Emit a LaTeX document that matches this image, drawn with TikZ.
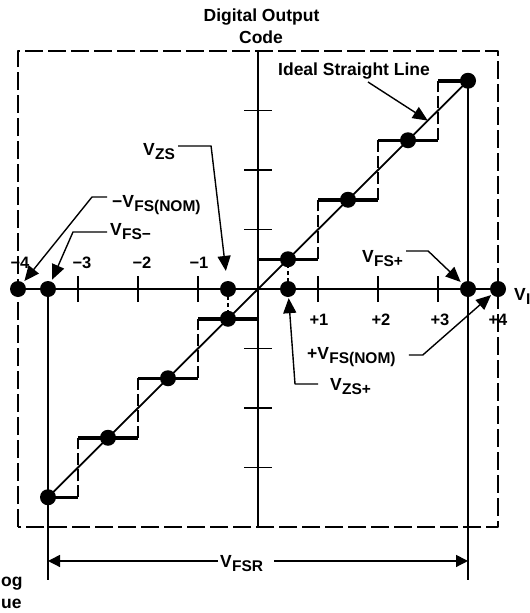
\documentclass[tikz,border=0pt]{standalone}
\usepackage{fontspec}
\setmainfont{Liberation Sans}
\usetikzlibrary{arrows.meta}
\newcommand\VV[1]{V\kern0.2pt\raisebox{-4.5pt}{\fontsize{15.5}{15.5}\selectfont #1}}
\begin{document}
\begin{tikzpicture}[x=1pt,y=-1pt,line join=round,
  lab/.style={inner sep=0pt,font=\bfseries\fontsize{17.5}{20}\selectfont},
  num/.style={inner sep=0pt,font=\bfseries\fontsize{16.5}{20}\selectfont},
  dot/.style={circle,fill=black,inner sep=0pt,minimum size=16pt},
  lead/.style={line width=1.4pt,-{Triangle[length=15pt,width=13pt]}},
  dimarrow/.style={line width=1.4pt,-{Triangle[length=12pt,width=12pt]}},
  frame/.style={line width=2pt,dash pattern=on 18pt off 5pt},
  axis/.style={line width=1.6pt},
  tread/.style={line width=3.5pt},
  riser/.style={line width=1.5pt,dash pattern=on 12pt off 4pt},
  short/.style={line width=1.5pt,dash pattern=on 4pt off 3pt},
  guide/.style={line width=1.5pt},
  diag/.style={line width=1.8pt}]
\fill[white] (0,0) rectangle (530,613);
\useasboundingbox (0,0) rectangle (530,613);
\begin{scope}[shift={(258,289)},x=60pt,y=59.5pt]
 \draw[frame] (-4,-4) rectangle (4,4);
 \draw[axis] (-4,0) -- (4,0);
 \draw[axis] (0,-4) -- (0,4);
 \foreach \k in {-3,-2,-1,1,2,3}{
   \draw[axis] (\k,-0.22) -- (\k,0.22);
   \draw[axis] (-0.233,\k) -- (0.233,\k);
 }
 \foreach \k in {-3,...,2} \draw[tread] (\k,\k+0.5) -- (\k+1,\k+0.5);
 \draw[tread] (-3.5,-3.5) -- (-3,-3.5);
 \draw[tread] (3,3.5) -- (3.5,3.5);
 \foreach \k in {-3,-2,-1,1,2,3} \draw[riser] (\k,\k-0.5) -- (\k,\k+0.5);
 \coordinate (lo) at (-3.5,-3.5);
 \coordinate (hi) at (3.5,3.5);
 \draw[diag] (lo) -- (hi);
 \draw[short] (-0.5,0) -- (-0.5,-0.5);
 \draw[short] (0.5,0) -- (0.5,0.5);
 \draw[guide] (-3.5,0) -- (-3.5,-4.89);
 \draw[guide] (3.5,3.5) -- (3.5,-4.89);
 \coordinate (fl) at (-3.5,-4.571);
 \coordinate (fr) at (3.5,-4.571);
 \coordinate (isl) at (2.83,2.83);
 \foreach \i/\v in {1/-3.5,2/-2.5,3/-1.5,4/-0.5,5/0.5,6/1.5,7/2.5,8/3.5}
   \node[dot] (l\i) at (\v,\v) {};
 \node[dot] (dm4) at (-4,0) {};
 \node[dot] (dm35) at (-3.5,0) {};
 \node[dot] (dzsm) at (-0.5,0) {};
 \node[dot] (dzsp) at (0.5,0) {};
 \node[dot] (dp35) at (3.5,0) {};
 \node[dot] (dp4) at (4,0) {};
\end{scope}
\node[lab,anchor=base] (t1) at (261.5,21) {Digital Output};
\node[lab,anchor=base] (t2) at (261,43) {Code};
\node[lab,anchor=base west] (idl) at (278,75) {Ideal Straight Line};
\node[lab,anchor=base west] (vzs) at (143,155) {\VV{ZS}};
\node[lab,anchor=base west] (vfsnm) at (112,207) {−\VV{FS(NOM)}};
\node[lab,anchor=base west] (vfsm) at (110,235) {\VV{FS−}};
\node[lab,anchor=base west] (vfsp) at (362,262) {\VV{FS+}};
\node[lab,anchor=base west] (vi) at (514,300) {\VV{I}};
\node[lab,anchor=base west] (vfsnp) at (307,359) {+\VV{FS(NOM)}};
\node[lab,anchor=base west] (vzsp) at (330,390) {\VV{ZS+}};
\node[lab,anchor=base west] (vfsr) at (220,567) {\VV{FSR}};
\node[num,anchor=base] (xm4) at (20,268) {−4};
\node[num,anchor=base] (xm3) at (82,268) {−3};
\node[num,anchor=base] (xm2) at (142,268) {−2};
\node[num,anchor=base] (xm1) at (199,268) {−1};
\node[num,anchor=base] (xp1) at (319,325) {+1};
\node[num,anchor=base] (xp2) at (381,325) {+2};
\node[num,anchor=base] (xp3) at (440,325) {+3};
\node[num,anchor=base] (xp4) at (498,325) {+4};
\node[lab,anchor=base west] (og) at (1,586) {og};
\node[lab,anchor=base west] (ue) at (1,608) {ue};
\draw[lead] ([shift={(90pt,-7pt)}]idl.base west) -- (isl);
\draw[lead,shorten >=10pt] ([shift={(3pt,9pt)}]vzs.base east) -- ++(33,0) -- (dzsm);
\draw[lead,shorten >=2pt] ([shift={(-5pt,10pt)}]vfsnm.base west) -- ++(-15,0) -- (dm4);
\draw[lead,shorten >=2pt] ([shift={(-3pt,3pt)}]vfsm.base west) -- ++(-34,0) -- (dm35);
\draw[lead,shorten >=2pt] ([shift={(3pt,11pt)}]vfsp.base east) -- ++(22,0) -- (dp35);
\draw[lead,shorten >=1pt] ([shift={(13pt,4pt)}]vfsnp.base east) -- ++(14,0) -- (dp4);
\draw[lead,shorten >=1pt] ([shift={(-12pt,6pt)}]vzsp.base west) -- ++(-23,0) -- (dzsp);
\draw[dimarrow] ([xshift=-2pt]vfsr.west |- fl) -- (fl);
\draw[dimarrow] ([xshift=11pt]vfsr.east |- fr) -- (fr);
\end{tikzpicture}
\end{document}
